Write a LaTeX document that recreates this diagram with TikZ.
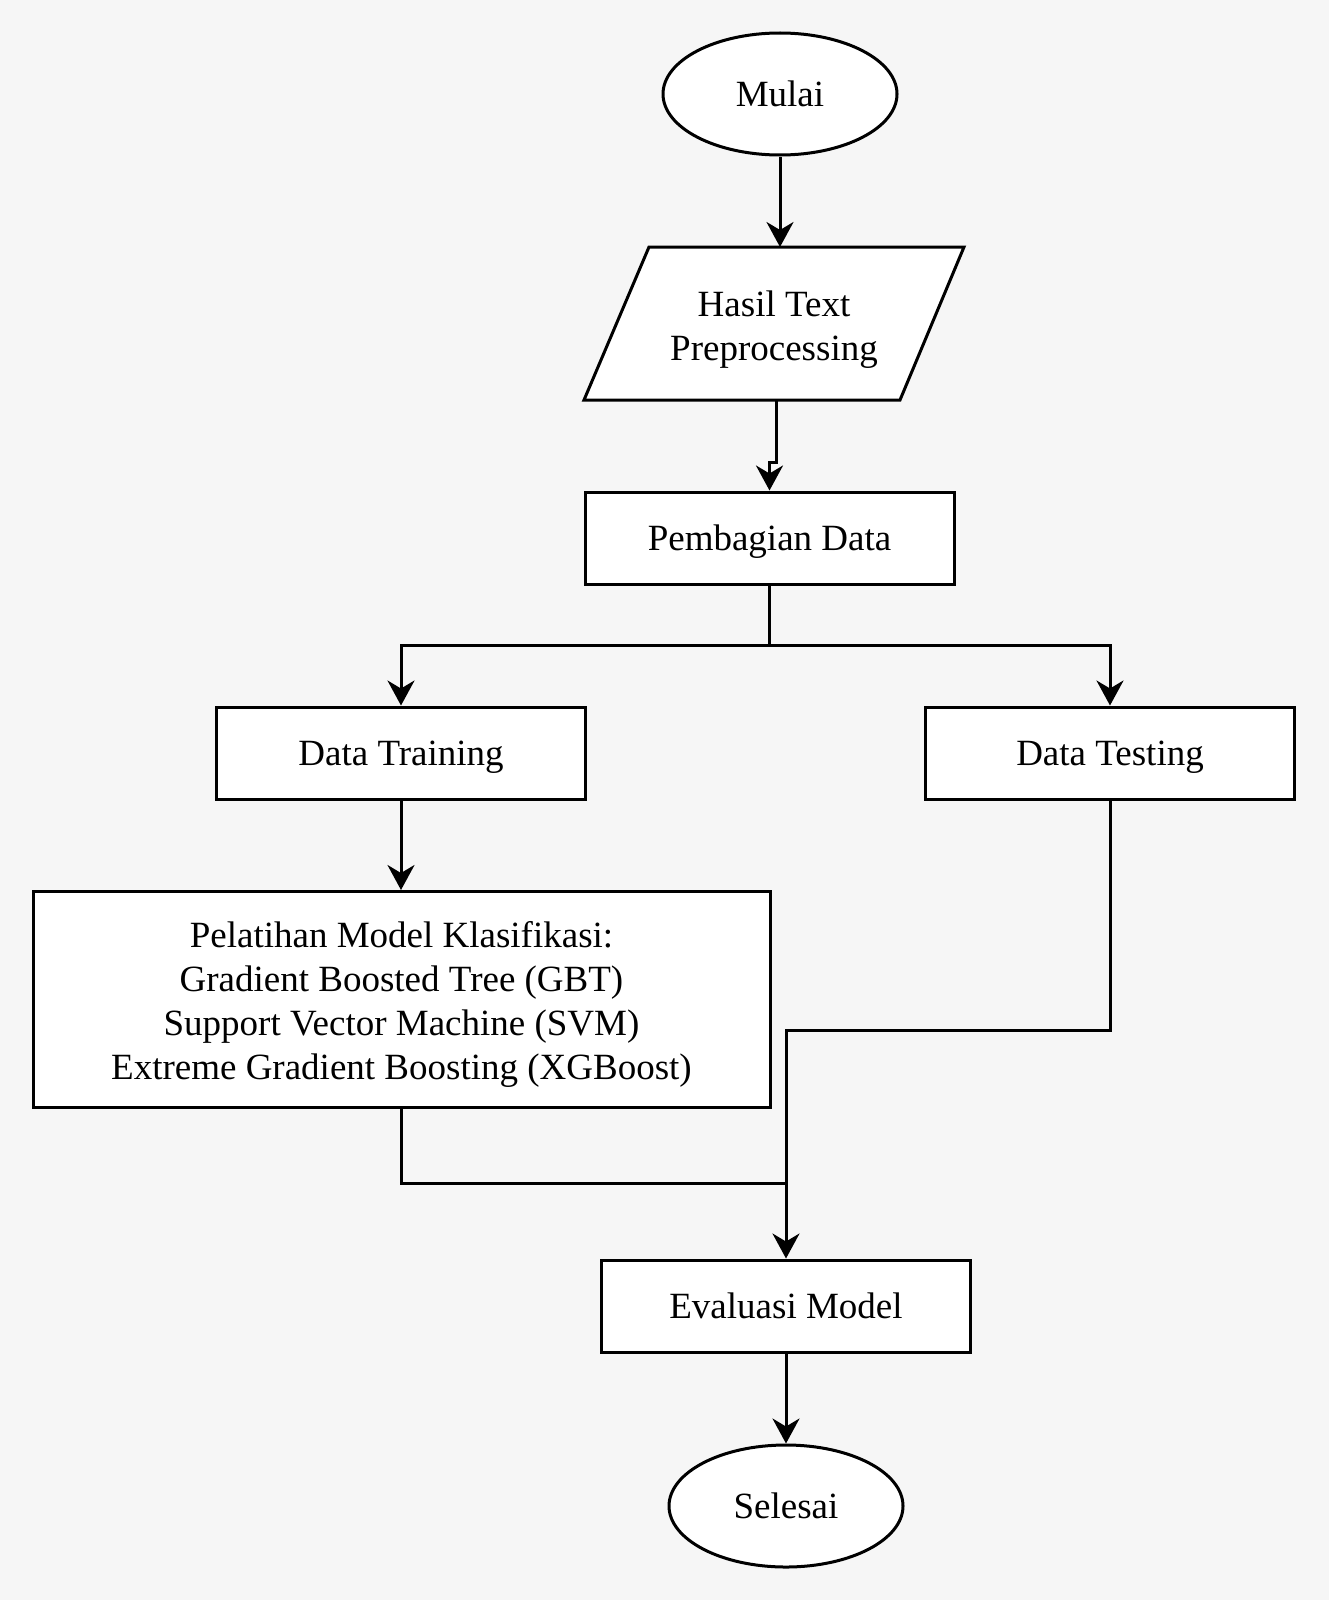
\documentclass[tikz,border=0pt]{standalone}
\usepackage{fontspec}
\setmainfont{Liberation Serif}
\usetikzlibrary{shapes.geometric,arrows.meta}
\definecolor{bgc}{HTML}{F6F6F6}
\tikzset{
  every node/.style={font=\fontsize{18.5}{22.1}\selectfont, align=center},
  line/.style={line width=1.5pt, draw=black},
  arr/.style={line, -{Stealth[length=12.5pt,width=13.5pt,inset=4pt]}},
  oneline/.style={text height=12.8pt, text depth=0pt},
  proc/.style={line, fill=white, rectangle, minimum width=184.5pt, minimum height=46pt, inner sep=0pt, oneline},
  term/.style={line, fill=white, ellipse, minimum width=117pt, minimum height=61pt, inner sep=0pt, oneline},
}
\begin{document}
\begin{tikzpicture}[x=0.5pt,y=-0.5pt]
\fill[bgc] (0,0) rectangle (1329,1600);
\useasboundingbox (0,0) rectangle (1329,1600);

% start
\node[term] (mulai) at (780,94) {Mulai};

% parallelogram
\draw[line, fill=white] (649,247) -- (964,247) -- (900,400) -- (584,400) -- cycle;
\node (hasil) at (774,330) {Hasil Text\\Preprocessing};
\coordinate (hasilT) at (780,247);
\coordinate (hasilB) at (776,400);

\node[proc] (pemb) at (769.5,538) {Pembagian Data};
\node[proc] (train) at (401,753) {Data Training};
\node[proc] (test) at (1110,753) {Data Testing};
\node[line, fill=white, rectangle, minimum width=368.5pt, minimum height=108pt, inner sep=0pt] (pel) at (401.5,999.5) {};
\node[yshift=-2.5pt] (pelT) at (pel.center)
  {Pelatihan Model Klasifikasi:\\Gradient Boosted Tree (GBT)\\Support Vector Machine (SVM)\\Extreme Gradient Boosting (XGBoost)};
\node[proc] (eval) at (786,1306) {Evaluasi Model};
\node[term] (selesai) at (786,1506) {Selesai};

\coordinate (j1) at (0,1030);
\coordinate (j2) at (0,1183);

% connectors
\draw[arr] (mulai.south) -- (hasilT);
\draw[arr] (hasilB) -- ++(0,62) -| (pemb.north);
\draw[arr] (pemb.south) -- ++(0,60) -| (train.north);
\draw[arr] (pemb.south) -- ++(0,60) -| (test.north);
\draw[arr] (train.south) -- (train.south |- pel.north);
\draw[arr] (test.south) -- (test.south |- j1) -| (eval.north);
\draw[line] (pel.south) -- (pel.south |- j2) -- (eval.north |- j2);
\draw[arr] (eval.south) -- (selesai.north);
\end{tikzpicture}
\end{document}
